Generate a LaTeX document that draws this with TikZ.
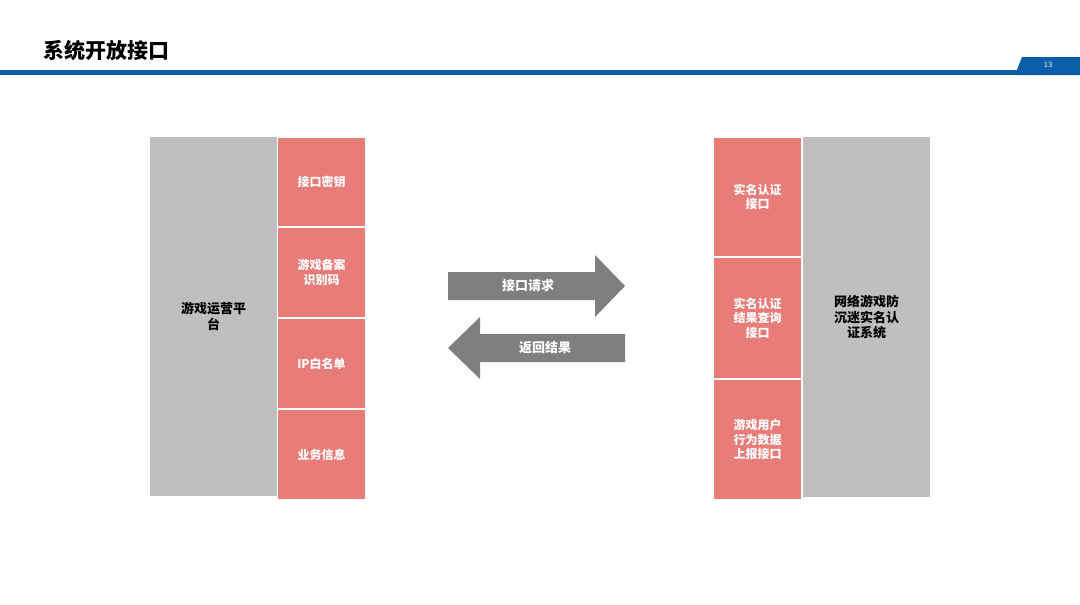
\documentclass[tikz,border=0pt]{standalone}
\usepackage{fontspec}
\newfontfamily\cjk{Noto Sans CJK SC}
\usetikzlibrary{positioning}
\definecolor{pinkbox}{HTML}{E77C78}
\definecolor{graybox}{HTML}{BFBFBF}
\definecolor{arrowgray}{HTML}{7F7F7F}
\definecolor{barblue}{HTML}{0B5DA8}

\begin{document}
\begin{tikzpicture}[
		x=1pt, y=-1pt,
		pinkcell/.style={fill=pinkbox, draw=white, line width=1pt, text=white, font=\cjk\bfseries\fontsize{12}{14.5}\selectfont, align=center, text width=62pt, inner sep=0pt},
		graycell/.style={fill=graybox, text=black, font=\cjk\bfseries\fontsize{13}{15.5}\selectfont, align=center, text width=80pt, inner sep=0pt},
		arrowlabel/.style={text=white, font=\cjk\bfseries\fontsize{13}{15}\selectfont}
	]

	\useasboundingbox (0,0) rectangle (1080,605);

	%-------------------
	% Header
	%-------------------
	\fill[barblue] (0,70) rectangle (1080,75);
	\fill[barblue] (1022,57) -- (1080,57) -- (1080,75) -- (1015,75) -- cycle;
	\node[text=white, font=\sffamily\fontsize{8}{9}\selectfont] (pagenum) at (1048,65) {13};
	\node[anchor=west, font=\cjk\bfseries\fontsize{21}{24}\selectfont] (title) at (40,50) {系统开放接口};

	%-------------------
	% Left block
	%-------------------
	\node[graycell, minimum width=127pt, minimum height=359pt, anchor=north west] (game) at (150,137) {游戏运营平\\台};
	\node[pinkcell, minimum width=88pt, minimum height=89pt, anchor=north west] (key) at (277,137) {接口密钥};
	\node[pinkcell, minimum width=88pt, minimum height=90pt, below=0pt of key] (record) {游戏备案\\识别码};
	\node[pinkcell, minimum width=88pt, minimum height=90pt, below=0pt of record] (ip) {IP白名单};
	\node[pinkcell, minimum width=88pt, minimum height=90pt, below=0pt of ip] (biz) {业务信息};

	%-------------------
	% Right block
	%-------------------
	\node[graycell, minimum width=127pt, minimum height=360pt, anchor=north west] (system) at (803,137) {网络游戏防\\沉迷实名认\\证系统};
	\node[pinkcell, minimum width=88pt, minimum height=119pt, anchor=north east] (auth) at (802,137) {实名认证\\接口};
	\node[pinkcell, minimum width=88pt, minimum height=121pt, below=0pt of auth] (query) {实名认证\\结果查询\\接口};
	\node[pinkcell, minimum width=88pt, minimum height=120pt, below=0pt of query] (report) {游戏用户\\行为数据\\上报接口};

	%-------------------
	% Arrows
	%-------------------
	\fill[arrowgray] (448,272) -- (595,272) -- (595,255) -- (625,286) -- (595,317) -- (595,300) -- (448,300) -- cycle;
	\node[arrowlabel] (request) at (528,286) {接口请求};
	\fill[arrowgray] (625,334) -- (480,334) -- (480,317) -- (448,348) -- (480,379) -- (480,362) -- (625,362) -- cycle;
	\node[arrowlabel] (result) at (545,348) {返回结果};

\end{tikzpicture}
\end{document}
